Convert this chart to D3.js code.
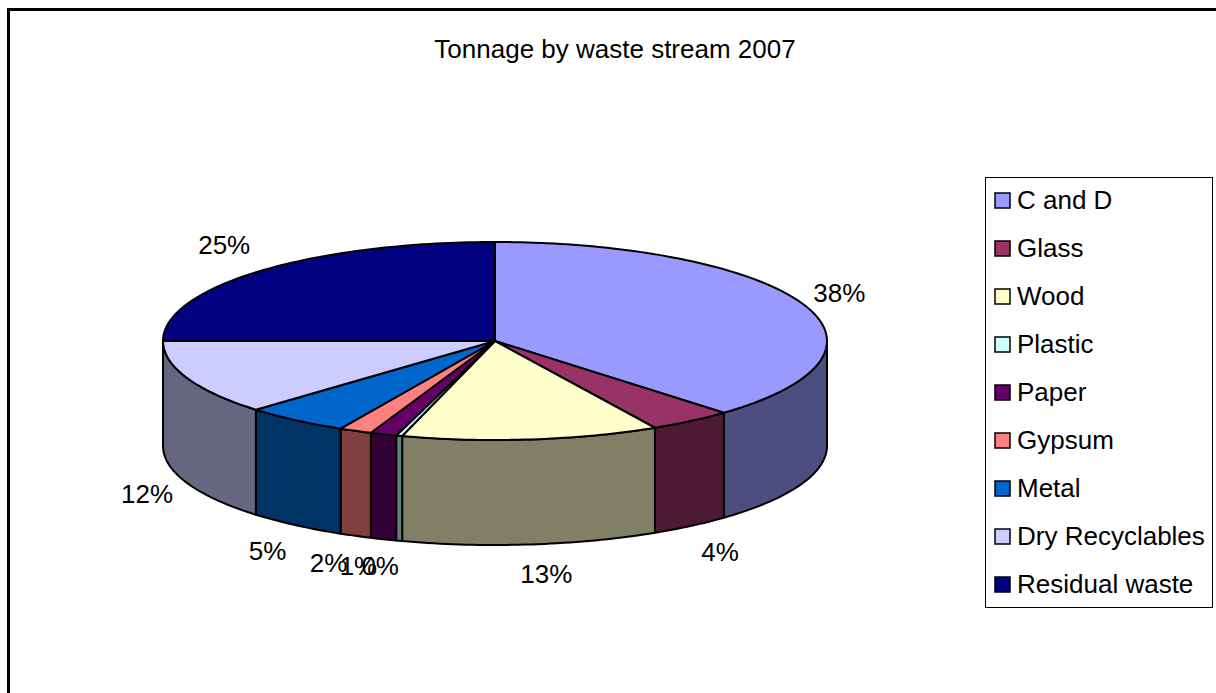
<!DOCTYPE html>
<html>
<head>
<meta charset="utf-8">
<script src="https://cdn.jsdelivr.net/npm/d3@7"></script>
<style>
  html, body { margin: 0; padding: 0; background: #fff; }
  svg { display: block; }
  text { font-family: "Liberation Sans", Arial, sans-serif; fill: #000; }
</style>
</head>
<body>
<div id="graf"></div>
<script>
const categorias = ["C and D", "Glass", "Wood", "Plastic", "Paper", "Gypsum", "Metal", "Dry Recyclables", "Residual waste"]
const valores = [37.9, 4.1, 12.51, 0.3, 1.29, 1.6, 5.1, 12.2, 25.0]
const colores = ["#9999ff", "#993366", "#ffffcc", "#ccffff", "#660066", "#ff8080", "#0066cc", "#ccccff", "#000080"]
const titulo = "Tonnage by waste stream 2007"

// desplazamiento de cada etiqueta respecto a su punto en el borde
const despEtiquetas = [
  [36, -2], [29, 140], [15, 144], [-19, 139], [-25, 141], [-27, 141], [-28, 140], [-40, 125], [-36, -17],
]

const anchoTotal = 1216
const altoTotal = 693
const centro = { x: 495, y: 341 }
const rx = 332
const ry = 99
const grosor = 105

const svg = d3.select("#graf")
  .append("svg")
  .attr("width", anchoTotal)
  .attr("height", altoTotal)

// marco exterior
svg.append("path")
  .attr("d", `M8.5,${altoTotal} V9.5 H${anchoTotal}`)
  .attr("fill", "none")
  .attr("stroke", "#000")
  .attr("stroke-width", 3)

svg.append("text")
  .attr("x", 615)
  .attr("y", 58)
  .attr("text-anchor", "middle")
  .style("font-size", "26px")
  .text(titulo)

const total = d3.sum(valores)
const pie = d3.pie().sort(null)
const rebanadas = pie(valores)
const formato = d3.format(".0%")

// punto sobre la elipse, angulo medido desde las 12 en sentido horario
const punto = (a, dy = 0) => [
  centro.x + rx * Math.sin(a),
  centro.y - ry * Math.cos(a) + dy,
]
const borde = (a0, a1, dy = 0) => {
  const n = Math.max(2, Math.ceil((a1 - a0) / 0.02))
  return d3.range(n + 1).map((i) => punto(a0 + ((a1 - a0) * i) / n, dy))
}
const linea = d3.line()
const oscuro = (c) => {
  const r = d3.rgb(c)
  return d3.rgb(r.r * 0.5, r.g * 0.5, r.b * 0.5).formatHex()
}

const g = svg.append("g")
  .attr("stroke", "#000")
  .attr("stroke-width", 2)
  .attr("stroke-linejoin", "round")

// paredes: solo la parte delantera de cada rebanada
const frente = rebanadas.filter((d) => d.endAngle > Math.PI / 2 && d.startAngle < (3 * Math.PI) / 2)
g.selectAll("path.pared")
  .data(frente)
  .enter()
  .append("path")
  .attr("class", "pared")
  .attr("fill", (d) => oscuro(colores[d.index]))
  .attr("d", (d) => {
    const a0 = Math.max(d.startAngle, Math.PI / 2)
    const a1 = Math.min(d.endAngle, (3 * Math.PI) / 2)
    return linea([...borde(a0, a1), ...borde(a0, a1, grosor).reverse()]) + "Z"
  })

// tapa
g.selectAll("path.tapa")
  .data(rebanadas)
  .enter()
  .append("path")
  .attr("class", "tapa")
  .attr("fill", (d) => colores[d.index])
  .attr("d", (d) => linea([[centro.x, centro.y], ...borde(d.startAngle, d.endAngle)]) + "Z")

// etiquetas de porcentaje
svg.selectAll("text.etiqueta")
  .data(rebanadas)
  .enter()
  .append("text")
  .attr("class", "etiqueta")
  .attr("text-anchor", "middle")
  .style("font-size", "26px")
  .attr("x", (d) => punto((d.startAngle + d.endAngle) / 2)[0] + despEtiquetas[d.index][0])
  .attr("y", (d) => punto((d.startAngle + d.endAngle) / 2)[1] + despEtiquetas[d.index][1])
  .text((d) => formato(d.value / total))

// leyenda
const leyenda = svg.append("g")
leyenda.append("rect")
  .attr("x", 985.5)
  .attr("y", 177.5)
  .attr("width", 227)
  .attr("height", 430)
  .attr("fill", "#fff")
  .attr("stroke", "#000")

const yLeyenda = d3.scalePoint()
  .domain(categorias)
  .range([200, 584])

const filas = leyenda.selectAll("g.fila")
  .data(categorias)
  .enter()
  .append("g")
  .attr("class", "fila")
  .attr("transform", (d) => `translate(0, ${yLeyenda(d)})`)

filas.append("rect")
  .attr("x", 995)
  .attr("y", -7)
  .attr("width", 15)
  .attr("height", 15)
  .attr("fill", (d, i) => colores[i])
  .attr("stroke", "#000")
  .attr("stroke-width", 1.5)

filas.append("text")
  .attr("x", 1017)
  .attr("y", 9)
  .style("font-size", "26px")
  .text((d) => d)
</script>
</body>
</html>
